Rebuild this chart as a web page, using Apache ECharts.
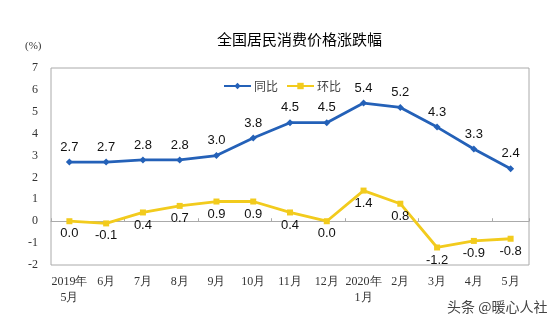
<!DOCTYPE html>
<html><head><meta charset="utf-8">
<script src="https://cdn.jsdelivr.net/npm/echarts@6/dist/echarts.min.js"></script>
<style>html,body{margin:0;padding:0;background:#fff}#c{width:560px;height:324px}</style>
</head><body><div id="c"></div>
<script>
var categories = ['2019年\n5月','6月','7月','8月','9月','10月','11月','12月','2020年\n1月','2月','3月','4月','5月'];
var yoy = [2.7,2.7,2.8,2.8,3.0,3.8,4.5,4.5,5.4,5.2,4.3,3.3,2.4];
var mom = [0.0,-0.1,0.4,0.7,0.9,0.9,0.4,0.0,1.4,0.8,-1.2,-0.9,-0.8];
var yTicks = [-2,-1,0,1,2,3,4,5,6,7];
var seriesNames = ['同比','环比'];
var titleText = '全国居民消费价格涨跌幅';
var unitText = '(%)';
var watermark = '头条 @暖心人社';

var chart = echarts.init(document.getElementById('c'), null, {renderer:'canvas'});
var serif = 'Liberation Serif';
var sans = 'Liberation Sans';
var blue = '#2461B8', yellow = '#F2CB1D';
chart.setOption({
  animation:false,
  backgroundColor:'#fff',
  title:{text:titleText,left:212,top:27,textStyle:{fontFamily:'Noto Sans CJK SC',fontSize:15,fontWeight:'normal',color:'#000'}},
  graphic:[
    {type:'text',left:25,top:41,style:{text:unitText,font:'11px '+serif,fill:'#333'}},
    {type:'text',left:447,top:300,style:{text:watermark,font:'14px "Noto Sans CJK SC"',fill:'#444'}}
  ],
  legend:{left:218,top:75,itemWidth:27,itemHeight:8,itemGap:8,
    textStyle:{fontFamily:'Noto Sans CJK SC',fontSize:12,color:'#444',padding:[0,0,0,-2]},
    data:[{name:seriesNames[0]},{name:seriesNames[1]}]},
  grid:{left:51,top:68,right:31,bottom:59,show:true,borderColor:'#aaa',borderWidth:1},
  xAxis:[
    {type:'category',data:categories,boundaryGap:true,
     axisLine:{show:false,onZero:false},axisTick:{show:false},
     axisLabel:{margin:9,fontFamily:serif,fontSize:12,color:'#333',lineHeight:16,interval:0}},
    {type:'category',data:categories,boundaryGap:true,position:'bottom',
     axisLine:{show:true,onZero:true,lineStyle:{color:'#aaa',width:1}},
     axisTick:{show:true,inside:true,length:3,lineStyle:{color:'#aaa'}},
     axisLabel:{show:false}}
  ],
  yAxis:{type:'value',min:-2,max:7,interval:1,
    axisLine:{show:false},axisTick:{show:false},splitLine:{show:false},
    axisLabel:{margin:13,fontFamily:serif,fontSize:12,color:'#333'}},
  series:[
    {name:seriesNames[0],type:'line',data:yoy,symbol:'diamond',symbolSize:7,
     lineStyle:{color:blue,width:2.8},itemStyle:{color:blue},
     label:{show:true,position:'top',distance:5,fontFamily:sans,fontSize:13,color:'#111',
       formatter:function(p){return p.value.toFixed(1);}}},
    {name:seriesNames[1],type:'line',data:mom,symbol:'rect',symbolSize:6,
     lineStyle:{color:yellow,width:2.8},itemStyle:{color:yellow},
     label:{show:true,position:'bottom',distance:3,fontFamily:sans,fontSize:13,color:'#111',
       formatter:function(p){return p.value.toFixed(1);}}}
  ]
});
</script></body></html>
